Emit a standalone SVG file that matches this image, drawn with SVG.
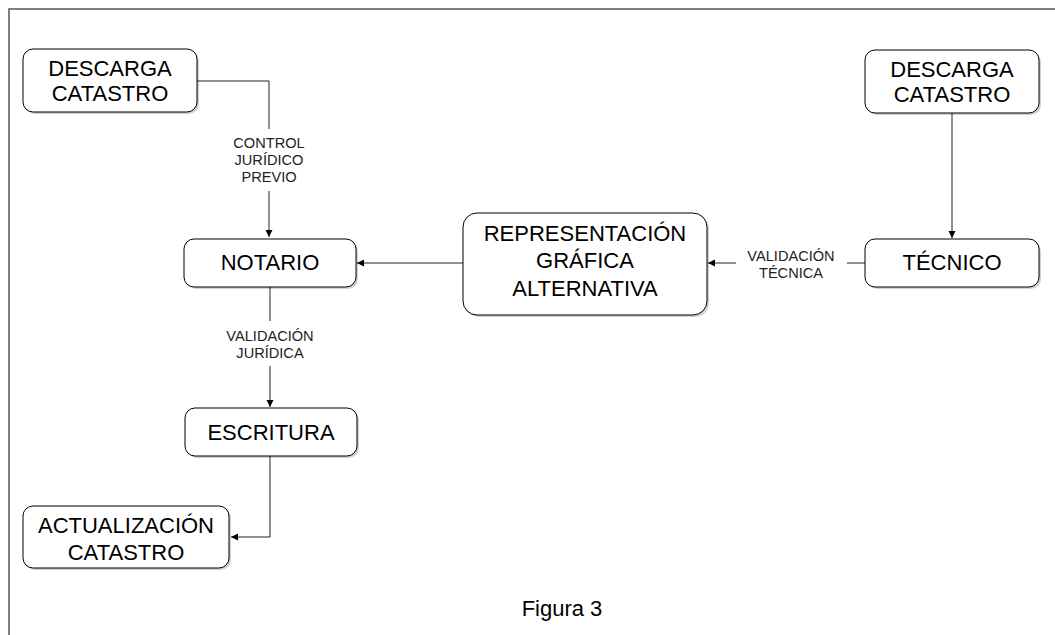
<svg xmlns="http://www.w3.org/2000/svg" width="1055" height="635" viewBox="0 0 1055 635">
<style>
.box{fill:#fff;stroke:#000;stroke-width:1}
.sh{fill:#000;opacity:0.18}
.t{font-family:"Liberation Sans",Arial,sans-serif;font-size:22px;fill:#000;text-anchor:middle}
.l{font-family:"Liberation Sans",Arial,sans-serif;font-size:14.6px;fill:#222;text-anchor:middle}
.e{fill:none;stroke:#222;stroke-width:1}
.lb{fill:#fff}
</style>
<defs>
<marker id="a" markerWidth="8" markerHeight="8" refX="7" refY="4" orient="auto" markerUnits="userSpaceOnUse">
<path d="M0,0.5 L7,4 L0,7.5 Z" fill="#000"/>
</marker>
</defs>
<rect x="0" y="0" width="1055" height="635" fill="#fff"/>
<path d="M9,640 L9,9 L1060,9" fill="none" stroke="#555" stroke-width="1.5"/>
<g id="connectors">
<path class="e" d="M197,81 L269,81 L269,237" marker-end="url(#a)"/>
<path class="e" d="M463,263 L357,263" marker-end="url(#a)"/>
<path class="e" d="M865,263 L708,263" marker-end="url(#a)"/>
<path class="e" d="M952,113 L952,238" marker-end="url(#a)"/>
<path class="e" d="M270,287 L270,407" marker-end="url(#a)"/>
<path class="e" d="M270,456 L270,537 L231,537" marker-end="url(#a)"/>
<rect class="lb" x="225" y="129" width="90" height="62"/>
<text class="l" x="269" y="148">CONTROL</text>
<text class="l" x="269" y="165">JURÍDICO</text>
<text class="l" x="269" y="182">PREVIO</text>
<rect class="lb" x="222" y="321" width="96" height="45"/>
<text class="l" x="270" y="341">VALIDACIÓN</text>
<text class="l" x="270" y="358">JURÍDICA</text>
<rect class="lb" x="736" y="245" width="111" height="36"/>
<text class="l" x="791" y="261">VALIDACIÓN</text>
<text class="l" x="791" y="278">TÉCNICA</text>
</g>
<g id="descarga1">
<rect class="sh" x="25" y="51" width="174" height="63" rx="10"/>
<rect class="box" x="23" y="49" width="174" height="63" rx="10"/>
<text class="t" x="110" y="76">DESCARGA</text>
<text class="t" x="110" y="101">CATASTRO</text>
</g>
<g id="descarga2">
<rect class="sh" x="867" y="52" width="174" height="63" rx="10"/>
<rect class="box" x="865" y="50" width="174" height="63" rx="10"/>
<text class="t" x="952" y="77">DESCARGA</text>
<text class="t" x="952" y="102">CATASTRO</text>
</g>
<g id="notario">
<rect class="sh" x="186" y="241" width="172" height="48" rx="10"/>
<rect class="box" x="184" y="239" width="172" height="48" rx="10"/>
<text class="t" x="270" y="270">NOTARIO</text>
</g>
<g id="representacion">
<rect class="sh" x="465" y="215" width="244" height="102" rx="14"/>
<rect class="box" x="463" y="213" width="244" height="102" rx="14"/>
<text class="t" x="585" y="241">REPRESENTACIÓN</text>
<text class="t" x="585" y="268">GRÁFICA</text>
<text class="t" x="585" y="296">ALTERNATIVA</text>
</g>
<g id="tecnico">
<rect class="sh" x="867" y="241" width="174" height="48" rx="10"/>
<rect class="box" x="865" y="239" width="174" height="48" rx="10"/>
<text class="t" x="952" y="270">TÉCNICO</text>
</g>
<g id="escritura">
<rect class="sh" x="187" y="410" width="172" height="48" rx="10"/>
<rect class="box" x="185" y="408" width="172" height="48" rx="10"/>
<text class="t" x="271" y="440">ESCRITURA</text>
</g>
<g id="actualizacion">
<rect class="sh" x="25" y="508" width="206" height="62" rx="10"/>
<rect class="box" x="23" y="506" width="206" height="62" rx="10"/>
<text class="t" x="126" y="533">ACTUALIZACIÓN</text>
<text class="t" x="126" y="560">CATASTRO</text>
</g>
<text x="562" y="616" font-family="'Liberation Sans',Arial,sans-serif" font-size="22" fill="#000" text-anchor="middle">Figura 3</text>
</svg>
